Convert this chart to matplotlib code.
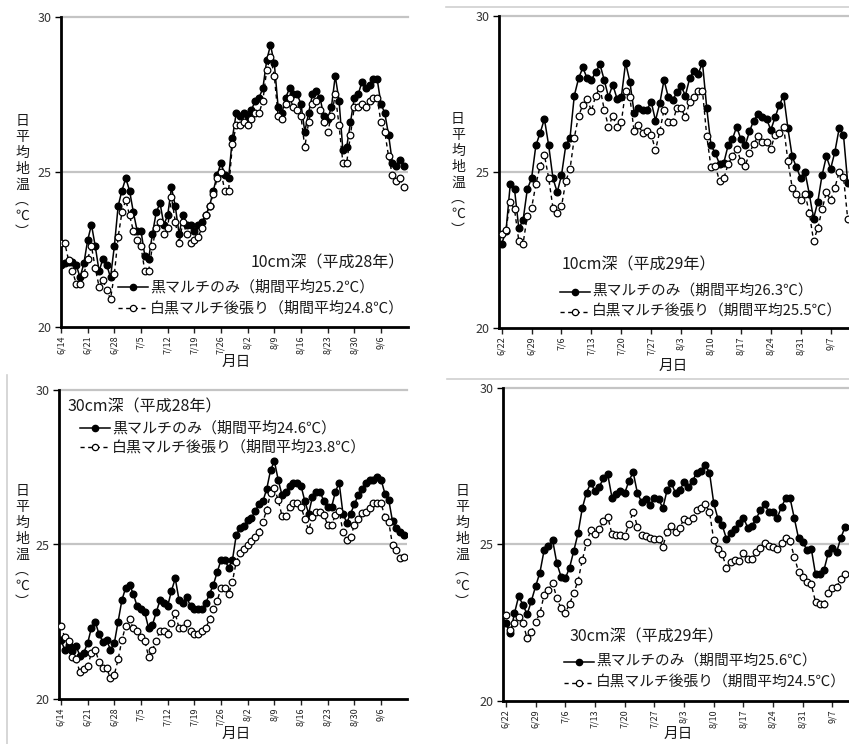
import matplotlib
matplotlib.use('Agg')
import matplotlib.pyplot as plt
from matplotlib.lines import Line2D

plt.rcParams['font.family'] = ['Noto Sans CJK JP', 'DejaVu Sans']

# ---- data (daily mean soil temperature) ----
ticks_h28 = ['6/14', '6/21', '6/28', '7/5', '7/12', '7/19', '7/26',
             '8/2', '8/9', '8/16', '8/23', '8/30', '9/6']
ticks_h29 = ['6/22', '6/29', '7/6', '7/13', '7/20', '7/27', '8/3',
             '8/10', '8/17', '8/24', '8/31', '9/7']

# 10cm, H28 (6/14 - 9/12)
black_10_h28 = [22.0, 22.05, 22.1, 22.1, 22.0, 21.6, 22.05, 22.8, 23.3, 22.6,
                21.8, 22.2, 22.0, 21.6, 22.6, 23.9, 24.4, 24.8, 24.4, 23.7,
                23.1, 23.1, 22.3, 22.2, 23.0, 23.7, 24.0, 23.3, 23.6, 24.5,
                23.9, 23.0, 23.6, 23.3, 23.3, 23.1, 23.3, 23.4, 23.6, 23.9,
                24.4, 24.9, 25.3, 24.9, 24.8, 26.1, 26.9, 26.8, 26.9, 26.8,
                27.0, 27.3, 27.4, 27.7, 28.6, 29.1, 28.5, 27.1, 26.9, 27.4,
                27.7, 27.5, 27.5, 27.2, 26.3, 26.9, 27.5, 27.6, 27.4, 26.8,
                26.7, 27.1, 28.1, 27.3, 25.7, 25.8, 26.6, 27.4, 27.5, 27.9,
                27.7, 27.8, 28.0, 28.0, 27.2, 26.9, 26.2, 25.3, 25.2, 25.4, 25.2]
white_10_h28 = [22.7, 22.7, 22.15, 21.8, 21.4, 21.4, 21.7, 22.2, 22.6, 21.9,
                21.3, 21.5, 21.2, 20.9, 21.7, 22.9, 23.7, 24.1, 23.6, 23.1,
                22.8, 22.6, 21.8, 21.8, 22.6, 23.2, 23.4, 23.0, 23.2, 24.2,
                23.4, 22.7, 23.4, 23.0, 22.7, 22.8, 22.9, 23.2, 23.6, 23.9,
                24.3, 24.8, 25.0, 24.4, 24.4, 25.9, 26.5, 26.5, 26.6, 26.5,
                26.7, 26.9, 26.9, 27.3, 28.3, 28.7, 28.1, 26.8, 26.7, 27.2,
                27.4, 27.1, 27.0, 26.8, 25.8, 26.6, 27.2, 27.3, 27.0, 26.6,
                26.3, 26.8, 27.5, 26.5, 25.3, 25.3, 26.2, 27.1, 27.1, 27.2,
                27.1, 27.3, 27.4, 27.4, 26.6, 26.3, 25.5, 24.9, 24.7, 24.8, 24.5]

# 10cm, H29 (6/22 - )
black_10_h29 = [22.7, 23.1, 24.6, 24.45, 23.2, 23.45, 24.45, 24.8, 25.85, 26.25,
                26.7, 25.85, 24.8, 24.35, 24.9, 25.85, 26.1, 27.45, 28.0, 28.35,
                28.0, 27.95, 28.2, 28.45, 27.95, 27.4, 27.8, 27.35, 27.4, 28.5,
                27.9, 26.9, 27.05, 27.0, 27.0, 27.25, 26.65, 27.2, 27.95, 27.4,
                27.3, 27.55, 27.75, 27.45, 28.0, 28.25, 28.15, 28.5, 27.05, 25.85,
                25.6, 25.25, 25.3, 25.85, 26.05, 26.45, 26.05, 25.85, 26.3, 26.65,
                26.85, 26.75, 26.7, 26.35, 26.75, 27.15, 27.45, 26.4, 25.5, 25.15,
                24.8, 25.0, 24.3, 23.5, 24.05, 24.9, 25.5, 25.1, 25.65, 26.4,
                26.2, 24.65]
white_10_h29 = [23.0, 23.15, 24.05, 23.8, 22.8, 22.7, 23.6, 23.85, 24.6, 25.2,
                25.55, 24.8, 23.85, 23.7, 23.9, 24.7, 25.1, 26.1, 26.8, 27.15,
                27.35, 26.95, 27.45, 27.7, 27.0, 26.45, 26.8, 26.45, 26.6, 27.6,
                27.4, 26.3, 26.5, 26.25, 26.3, 26.2, 25.7, 26.3, 27.0, 26.6,
                26.6, 27.05, 27.05, 26.75, 27.25, 27.4, 27.6, 27.6, 26.15, 25.15,
                25.2, 24.7, 24.8, 25.25, 25.5, 25.75, 25.35, 25.2, 25.6, 25.9,
                26.15, 25.95, 25.95, 25.75, 26.2, 26.25, 26.45, 25.35, 24.5, 24.3,
                24.1, 24.3, 23.7, 22.8, 23.2, 23.8, 24.35, 24.1, 24.5, 25.0,
                24.85, 23.5]

# 30cm, H28 (6/14 - 9/12)
black_30_h28 = [21.9, 21.6, 21.75, 21.55, 21.7, 21.4, 21.5, 21.8, 22.3, 22.5,
                22.1, 21.85, 21.9, 21.6, 21.8, 22.5, 23.2, 23.6, 23.7, 23.4,
                23.0, 22.9, 22.8, 22.3, 22.4, 22.8, 23.2, 23.1, 23.0, 23.5,
                23.9, 23.2, 23.1, 23.3, 23.0, 22.9, 22.9, 22.9, 23.1, 23.4,
                23.7, 24.1, 24.5, 24.5, 24.25, 24.5, 25.3, 25.55, 25.6, 25.8,
                25.85, 26.1, 26.3, 26.4, 26.8, 27.4, 27.7, 27.1, 26.6, 26.7,
                26.9, 27.0, 27.0, 26.9, 26.4, 26.0, 26.55, 26.7, 26.7, 26.4,
                26.2, 26.2, 26.7, 27.0, 26.0, 25.7, 26.0, 26.3, 26.6, 26.8,
                27.0, 27.1, 27.1, 27.2, 27.1, 26.65, 26.45, 25.75, 25.55, 25.4, 25.3]
white_30_h28 = [22.37, 22.0, 21.89, 21.37, 21.28, 20.86, 20.96, 21.07, 21.48, 21.59,
                21.21, 20.99, 20.99, 20.67, 20.78, 21.28, 21.91, 22.37, 22.58, 22.29,
                22.21, 22.0, 21.89, 21.37, 21.59, 21.89, 22.21, 22.21, 22.1, 22.47,
                22.77, 22.29, 22.29, 22.47, 22.21, 22.1, 22.1, 22.21, 22.29, 22.58,
                22.9, 23.18, 23.58, 23.58, 23.4, 23.8, 24.44, 24.71, 24.85, 24.98,
                25.11, 25.25, 25.41, 25.74, 26.12, 26.66, 26.82, 26.44, 25.93, 25.93,
                26.22, 26.33, 26.33, 26.22, 25.83, 25.47, 25.9, 26.06, 26.06, 25.95,
                25.63, 25.63, 25.95, 26.09, 25.41, 25.14, 25.25, 25.63, 25.84, 26.01,
                26.06, 26.17, 26.33, 26.33, 26.33, 25.9, 25.74, 24.98, 24.82, 24.55, 24.6]

# 30cm, H29 (6/22 - )
black_30_h29 = [22.48, 22.16, 22.8, 23.35, 23.07, 22.77, 23.2, 23.67, 24.1, 24.82,
                24.96, 25.14, 24.4, 23.97, 23.92, 24.26, 24.8, 25.36, 26.16, 26.66,
                26.96, 26.71, 26.85, 27.11, 27.24, 26.5, 26.61, 26.71, 26.64, 27.03,
                27.31, 26.64, 26.36, 26.45, 26.26, 26.5, 26.45, 26.16, 26.74, 26.96,
                26.64, 26.74, 26.99, 26.85, 27.03, 27.3, 27.35, 27.54, 27.3, 26.32,
                25.82, 25.62, 25.18, 25.36, 25.5, 25.7, 25.86, 25.54, 25.6, 25.82,
                26.1, 26.28, 26.05, 26.05, 25.86, 26.21, 26.48, 26.48, 25.84, 25.2,
                25.07, 24.82, 24.87, 24.05, 24.05, 24.19, 24.72, 24.9, 24.77, 25.22,
                25.57]
white_30_h29 = [22.75, 22.27, 22.48, 22.67, 22.48, 22.0, 22.21, 22.53, 22.8, 23.39,
                23.55, 23.78, 23.28, 22.96, 22.82, 23.1, 23.46, 23.84, 24.5, 25.07,
                25.46, 25.33, 25.5, 25.75, 25.89, 25.33, 25.3, 25.3, 25.28, 25.64,
                26.05, 25.57, 25.3, 25.28, 25.2, 25.18, 25.18, 24.93, 25.41, 25.6,
                25.39, 25.54, 25.82, 25.76, 25.84, 26.1, 26.16, 26.28, 26.05, 25.14,
                24.85, 24.69, 24.26, 24.43, 24.5, 24.48, 24.72, 24.55, 24.55, 24.77,
                24.88, 25.04, 24.96, 24.93, 24.87, 25.04, 25.2, 25.1, 24.61, 24.13,
                23.97, 23.79, 23.73, 23.17, 23.1, 23.1, 23.46, 23.6, 23.65, 23.9,
                24.05]

W, H = 849, 744
fig = plt.figure(figsize=(W / 100, H / 100), dpi=100)


def fx(x):
    return x / W


def fy(y):
    return 1 - y / H


def panel(left, right, top, bottom, black, white, ticklabels, xlim):
    ax = fig.add_axes([fx(left), fy(bottom), fx(right - left), (bottom - top) / H])
    days = range(len(black))
    ax.axhline(25, color='#c4c4c4', lw=1.6, zorder=0)
    ax.axhline(30, color='#c4c4c4', lw=1.6, zorder=0, clip_on=False)
    ax.plot(days, black, color='black', lw=1.1, marker='o', ms=4.8,
            mfc='black', mec='black', zorder=3)
    ax.plot(days, white, color='black', lw=1.0, ls=(0, (3, 2.5)), marker='o',
            ms=4.8, mfc='white', mec='black', mew=0.9, zorder=4)
    ax.set_xlim(*xlim)
    ax.set_ylim(20, 30)
    ax.set_yticks([20, 25, 30])
    ax.set_xticks(range(0, 7 * len(ticklabels), 7))
    ax.set_xticklabels(ticklabels)
    for s in ['top', 'right']:
        ax.spines[s].set_visible(False)
    for s in ['left', 'bottom']:
        ax.spines[s].set_linewidth(2)
        ax.spines[s].set_color('black')
    ax.tick_params(axis='x', direction='out', length=4, width=1,
                   labelsize=6.5, labelrotation=90, pad=2, colors='#222222')
    ax.tick_params(axis='y', direction='out', length=4, width=1,
                   labelsize=9, pad=3, labelcolor='#333333')
    ax.set_facecolor('none')
    return ax


panel(61, 408, 17, 327, black_10_h28, white_10_h28, ticks_h28, (0, 91.1))
panel(499, 849, 16, 328, black_10_h29, white_10_h29, ticks_h29, (-0.63, 81.3))
panel(59, 407, 390, 699, black_30_h28, white_30_h28, ticks_h28, (-0.5, 90.8))
panel(503, 849, 388, 701, black_30_h29, white_30_h29, ticks_h29, (-0.7, 80.9))

txt = '#1a1a1a'


def ylabel(x, y):
    # vertical (tategaki) axis title: 日平均地温（℃）
    fig.text(fx(x), fy(y), '日\n平\n均\n地\n温\n︵\n℃\n︶', ha='center', va='top',
             fontsize=10, linespacing=1.17, color=txt)


ylabel(22, 114)
ylabel(458, 112)
ylabel(22, 484)
ylabel(462, 484)

fig.text(fx(236), fy(362), '月日', ha='center', va='center', fontsize=10.5, color=txt)
fig.text(fx(673), fy(366), '月日', ha='center', va='center', fontsize=10.5, color=txt)
fig.text(fx(236), fy(734), '月日', ha='center', va='center', fontsize=10.5, color=txt)
fig.text(fx(678), fy(734), '月日', ha='center', va='center', fontsize=10.5, color=txt)


def legend(x, y1, y2, title, ty, tx, m1, m2, right=False, size=10.8):
    fig.text(fx(tx), fy(ty), title, ha='right' if right else 'left',
             va='center', fontsize=11.5, color=txt)
    x0, x1 = x, x + 30
    xm = (x0 + x1) / 2
    fig.add_artist(Line2D([fx(x0), fx(x1)], [fy(y1), fy(y1)], color='black', lw=1.1))
    fig.add_artist(Line2D([fx(xm)], [fy(y1)], marker='o', ms=4.5, mfc='black', mec='black'))
    fig.add_artist(Line2D([fx(x0), fx(x1)], [fy(y2), fy(y2)], color='black',
                          lw=1.0, ls=(0, (3, 2.5))))
    fig.add_artist(Line2D([fx(xm)], [fy(y2)], marker='o', ms=4.5, mfc='white',
                          mec='black', mew=0.9))
    fig.text(fx(x1 + 2), fy(y1), '黒マルチのみ（期間平均' + m1 + '℃）',
             ha='left', va='center', fontsize=size, color=txt)
    fig.text(fx(x1 + 2), fy(y2), '白黒マルチ後張り（期間平均' + m2 + '℃）',
             ha='left', va='center', fontsize=size, color=txt)


legend(118, 287, 308, '10cm深（平成28年）', 263, 405, '25.2', '24.8', right=True)
legend(560, 292, 312, '10cm深（平成29年）', 265, 562, '26.3', '25.5', size=10.6)
legend(80, 428, 447, '30cm深（平成28年）', 407, 67, '24.6', '23.8')
legend(564, 662, 683, '30cm深（平成29年）', 637, 570, '25.6', '24.5', size=10.6)

# chart-area borders visible at the edges
border = '#d0d0d0'
fig.add_artist(Line2D([fx(446), 1], [fy(7), fy(7)], color=border, lw=1.2))
fig.add_artist(Line2D([fx(7), fx(7)], [fy(375), 0], color=border, lw=1.2))
fig.add_artist(Line2D([fx(447), 1], [fy(379), fy(379)], color=border, lw=1.2))

fig.savefig('out.png', dpi=100)
